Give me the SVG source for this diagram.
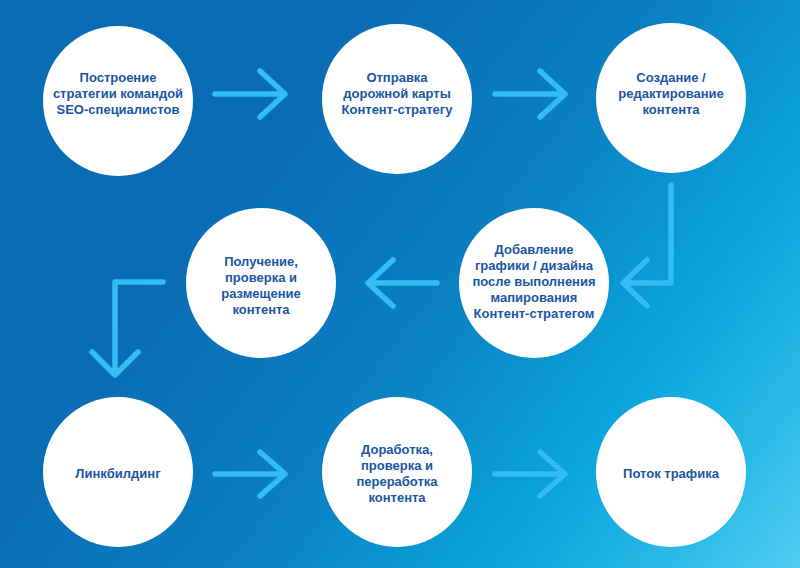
<svg xmlns="http://www.w3.org/2000/svg" width="800" height="568" viewBox="0 0 800 568">
<defs>
<linearGradient id="bg" gradientUnits="userSpaceOnUse" x1="250" y1="150" x2="800" y2="568">
<stop offset="0" stop-color="#0a6cb5"/>
<stop offset="0.35" stop-color="#0a7fc2"/>
<stop offset="0.65" stop-color="#0aa5db"/>
<stop offset="0.85" stop-color="#2bbbe8"/>
<stop offset="1" stop-color="#50cdf1"/>
</linearGradient>
<style>
.node circle{fill:#ffffff;}
.node text{font-family:"Liberation Sans",Arial,sans-serif;font-size:13px;font-weight:bold;fill:#1a56a3;text-anchor:middle;}
#connectors path{fill:none;stroke:#33bdf3;stroke-width:5.5;stroke-linecap:round;stroke-linejoin:round;}
</style>
</defs>
<rect x="0" y="0" width="800" height="568" fill="url(#bg)"/>
<g id="connectors">
<path d="M215,94 H285 M260,71 L285,94 L260,117"/>
<path d="M495,94 H565 M540,71 L565,94 L540,117"/>
<path d="M671,185 V283 H623 M647,260 L623,283 L647,306"/>
<path d="M437,283 H368 M393,260 L368,283 L393,306"/>
<path d="M163,282 H115 V375 M92,352 L115,375 L138,352"/>
<path d="M215,474 H285 M260,452 L285,474 L260,496"/>
<path d="M495,474 H565 M540,452 L565,474 L540,496"/>
</g>
<g id="n1" class="node">
<circle cx="118" cy="101" r="75"/>
<text x="118" y="82">Построение</text>
<text x="118" y="98">стратегии командой</text>
<text x="118" y="114">SEO-специалистов</text>
</g>
<g id="n2" class="node">
<circle cx="397" cy="99" r="75"/>
<text x="397" y="82">Отправка</text>
<text x="397" y="98">дорожной карты</text>
<text x="397" y="114">Контент-стратегу</text>
</g>
<g id="n3" class="node">
<circle cx="671" cy="98" r="75"/>
<text x="671" y="82">Создание /</text>
<text x="671" y="98">редактирование</text>
<text x="671" y="114">контента</text>
</g>
<g id="n4" class="node">
<circle cx="534" cy="283" r="75"/>
<text x="534" y="254">Добавление</text>
<text x="534" y="270">графики / дизайна</text>
<text x="534" y="286">после выполнения</text>
<text x="534" y="302">мапирования</text>
<text x="534" y="318">Контент-стратегом</text>
</g>
<g id="n5" class="node">
<circle cx="261" cy="283" r="75"/>
<text x="261" y="266">Получение,</text>
<text x="261" y="282">проверка и</text>
<text x="261" y="298">размещение</text>
<text x="261" y="314">контента</text>
</g>
<g id="n6" class="node">
<circle cx="118" cy="472" r="75"/>
<text x="118" y="478">Линкбилдинг</text>
</g>
<g id="n7" class="node">
<circle cx="397" cy="472" r="75"/>
<text x="397" y="454">Доработка,</text>
<text x="397" y="470">проверка и</text>
<text x="397" y="486">переработка</text>
<text x="397" y="502">контента</text>
</g>
<g id="n8" class="node">
<circle cx="671" cy="472" r="75"/>
<text x="671" y="478">Поток трафика</text>
</g>
</svg>
